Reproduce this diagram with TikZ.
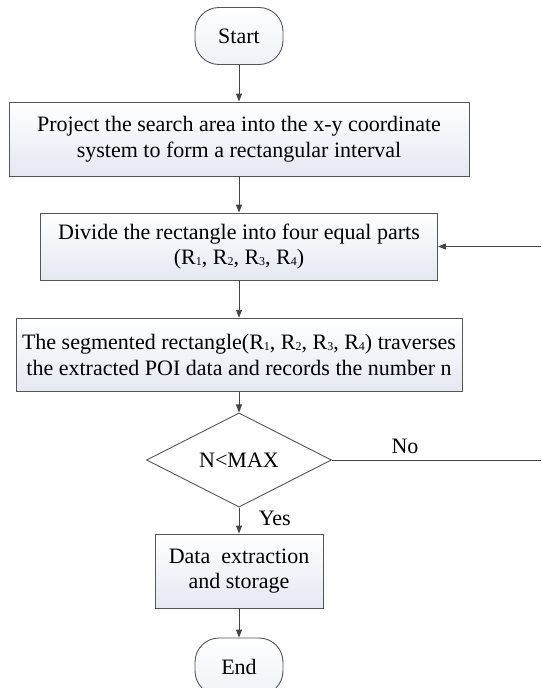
\documentclass[tikz,border=0pt]{standalone}
\usepackage{fontspec}
\setmainfont{Liberation Serif}
\usetikzlibrary{shapes.geometric,arrows.meta}
\definecolor{edgegray}{RGB}{85,85,85}
\definecolor{fillblue}{RGB}{228,232,241}
\newcommand{\sub}[1]{\raisebox{-0.05ex}{\fontsize{12pt}{12pt}\selectfont #1}}
\tikzset{
  every node/.style={font=\fontsize{22pt}{25.5pt}\selectfont},
  procbox/.style={draw=edgegray, line width=0.9pt, rectangle, align=center,
    top color=white, bottom color=fillblue, inner sep=0pt},
  terminal/.style={draw=edgegray, line width=0.9pt, rectangle, rounded corners=24pt,
    minimum width=88pt, minimum height=57pt, top color=white, bottom color=fillblue!60, inner sep=0pt},
  decision/.style={draw=edgegray, line width=0.9pt, diamond, fill=white,
    minimum width=185pt, minimum height=64pt, inner sep=0pt},
  flow/.style={draw=edgegray!80!black, line width=0.9pt, -{Triangle[length=8pt,width=6pt]}},
}
\begin{document}
\begin{tikzpicture}[x=1pt,y=-1pt]
\clip (0,0) rectangle (541,688);
\useasboundingbox (0,0) rectangle (541,688);
\fill[white] (0,0) rectangle (541,688);

\node[terminal] (start) at (239,36) {Start};
\node[procbox, minimum width=460pt, minimum height=74pt] (proj) at (239,139)
  {Project the search area into the x-y coordinate\\system to form a rectangular interval};
\node[procbox, minimum width=397pt, minimum height=67pt] (divide) at (239,246.5)
  {Divide the rectangle into four equal parts\\(R\sub{1}, R\sub{2}, R\sub{3}, R\sub{4})};
\node[procbox, minimum width=446pt, minimum height=73.5pt] (trav) at (239,355)
  {The segmented rectangle(R\sub{1}, R\sub{2}, R\sub{3}, R\sub{4}) traverses\\the extracted POI data and records the number n};
\node[decision] (check) at (239,460) {N<MAX};
\node[procbox, minimum width=168pt, minimum height=74pt] (store) at (239,571)
  {Data\ \ extraction\\and storage};
\node[terminal] (finish) at (239,666.5) {End};

\coordinate (loopbot) at (548,460);
\coordinate (looptop) at (548,246.5);

\draw[flow] (start) -- (proj);
\draw[flow] (proj) -- (divide);
\draw[flow] (divide) -- (trav);
\draw[flow] (trav) -- (check);
\draw[flow] (check) -- node[right=16pt, pos=0.42] (yes) {Yes} (store);
\draw[flow] (store) -- (finish);
\draw[flow] (check.east) -- (loopbot) -- (looptop) -- (divide.east);
\node (no) at (405,446) {No};
\end{tikzpicture}
\end{document}
